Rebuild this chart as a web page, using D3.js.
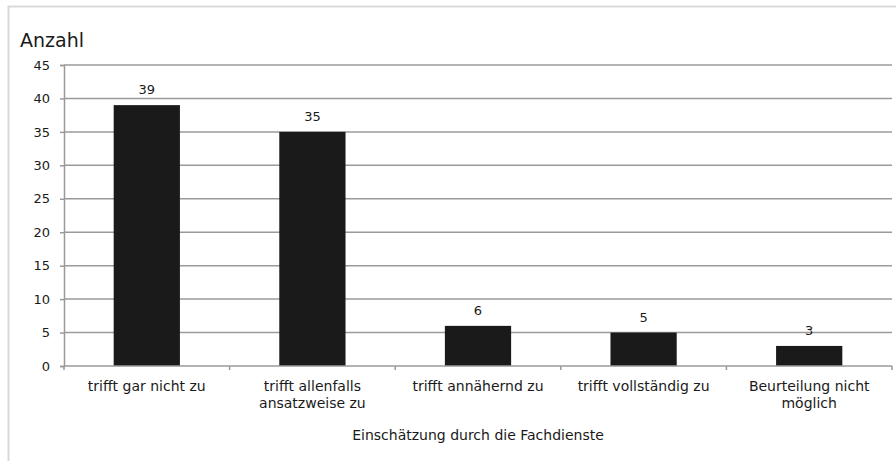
<!DOCTYPE html>
<html><head><meta charset="utf-8">
<script src="https://cdn.jsdelivr.net/npm/d3@7"></script>
<style>body{margin:0;background:#fff}svg{display:block}text{font-family:"DejaVu Sans",sans-serif;fill:#1a1a1a}</style>
</head><body>
<script>
const categories = [["trifft gar nicht zu"],["trifft allenfalls","ansatzweise zu"],["trifft annähernd zu"],["trifft vollständig zu"],["Beurteilung nicht","möglich"]];
const values = [39,35,6,5,3];
const yTicks = [0,5,10,15,20,25,30,35,40,45];
const yTitle = "Anzahl";
const xTitle = "Einschätzung durch die Fachdienste";

const W=896,H=461;
const svg=d3.select("body").append("svg").attr("width",W).attr("height",H);
svg.append("path").attr("d","M8.5,461 V6.5 H896").attr("fill","none").attr("stroke","#d9d9d9").attr("stroke-width",2);

const pL=64,pR=892,pT=65,pB=366;
const idx=d3.range(values.length);
const x=d3.scaleBand().domain(idx).range([pL,pR]).paddingInner(0.6).paddingOuter(0.3);
const y=d3.scaleLinear().domain([0,45]).range([pB,pT]);

svg.append("g").selectAll("line").data(yTicks.filter(d=>d>0)).join("line")
  .attr("x1",pL).attr("x2",pR).attr("y1",d=>y(d)).attr("y2",d=>y(d))
  .attr("stroke","#9a9a9a").attr("stroke-width",1.5);

svg.append("g").selectAll("rect").data(values).join("rect")
  .attr("x",(d,i)=>x(i)).attr("width",x.bandwidth())
  .attr("y",d=>y(d)).attr("height",d=>y(0)-y(d)).attr("fill","#1a1a1a");

const ya=svg.append("g").attr("transform",`translate(${pL},0)`)
  .call(d3.axisLeft(y).tickValues(yTicks).tickSize(4).tickPadding(10));
ya.select(".domain").attr("stroke","#9a9a9a").attr("stroke-width",1.5);
ya.selectAll(".tick line").attr("stroke","#9a9a9a").attr("stroke-width",1.5);
ya.selectAll(".tick text").attr("font-size",13).attr("font-family","DejaVu Sans").attr("fill","#1a1a1a");

const xb=svg.append("g");
xb.append("line").attr("x1",pL).attr("x2",pR).attr("y1",pB).attr("y2",pB).attr("stroke","#9a9a9a").attr("stroke-width",1.5);
xb.selectAll("line.tk").data(d3.range(values.length+1)).join("line").attr("class","tk")
  .attr("x1",i=>pL+i*(pR-pL)/values.length).attr("x2",i=>pL+i*(pR-pL)/values.length)
  .attr("y1",pB).attr("y2",pB+4).attr("stroke","#9a9a9a").attr("stroke-width",1.5);

const cl=svg.append("g").selectAll("text").data(categories).join("text")
  .attr("x",(d,i)=>x(i)+x.bandwidth()/2).attr("y",391).attr("text-anchor","middle").attr("font-size",14);
cl.selectAll("tspan").data(d=>d).join("tspan")
  .attr("x",function(){return this.parentNode.getAttribute("x");})
  .attr("dy",(d,j)=>j===0?0:17).text(d=>d);

svg.append("g").selectAll("text").data(values).join("text")
  .attr("x",(d,i)=>x(i)+x.bandwidth()/2).attr("y",d=>y(d)-11)
  .attr("text-anchor","middle").attr("font-size",13).text(d=>d);

svg.append("text").attr("x",20).attr("y",47).attr("font-size",19).text(yTitle);
svg.append("text").attr("x",(pL+pR)/2).attr("y",440).attr("text-anchor","middle").attr("font-size",14).text(xTitle);
</script>
</body></html>
